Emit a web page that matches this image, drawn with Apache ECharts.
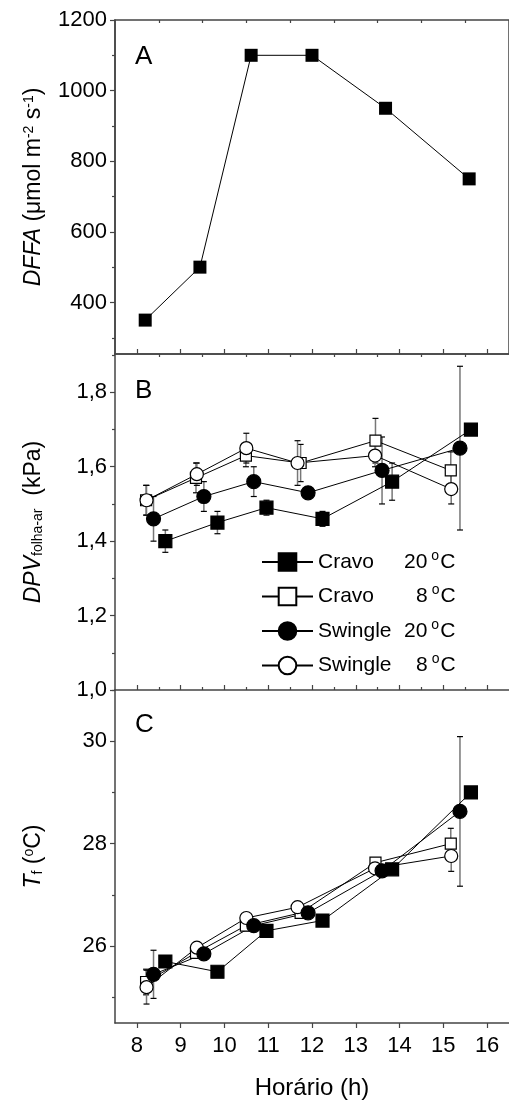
<!DOCTYPE html>
<html>
<head>
<meta charset="utf-8">
<script src="https://cdn.jsdelivr.net/npm/echarts@6/dist/echarts.min.js"></script>
<style>
html,body{margin:0;padding:0;background:#fff;}
#chart{width:509px;height:1101px;}
</style>
</head>
<body>
<div id="chart"></div>
<script>
// painel A - DFFA
var horaA = [8.19, 9.44, 10.61, 12.0, 13.68, 15.59];
var dffa = [350, 500, 1100, 1100, 950, 750];

// horario de cada tratamento (paineis B e C)
var horaCravo20 = [8.65, 9.84, 10.96, 12.24, 13.83, 15.63];
var horaCravo8 = [8.21, 9.35, 10.49, 11.74, 13.45, 15.17];
var horaSwingle20 = [8.38, 9.53, 10.67, 11.91, 13.60, 15.38];
var horaSwingle8 = [8.22, 9.37, 10.50, 11.67, 13.44, 15.18];

// painel B - DPV folha-ar
var dpvCravo20 = [1.40, 1.45, 1.49, 1.46, 1.56, 1.70];
var dpvCravo20Err = [0.03, 0.03, 0.02, 0.02, 0.05, 0];
var dpvCravo8 = [1.51, 1.57, 1.63, 1.61, 1.67, 1.59];
var dpvCravo8Err = [0.04, 0.04, 0.03, 0.05, 0.06, 0.05];
var dpvSwingle20 = [1.46, 1.52, 1.56, 1.53, 1.59, 1.65];
var dpvSwingle20Err = [0.06, 0.04, 0.04, 0.01, 0.09, 0.22];
var dpvSwingle8 = [1.51, 1.58, 1.65, 1.61, 1.63, 1.54];
var dpvSwingle8Err = [0.04, 0.03, 0.04, 0.06, 0.03, 0.04];

// painel C - Tf
var tfCravo20 = [25.7, 25.5, 26.3, 26.5, 27.5, 29.0];
var tfCravo20Err = [0, 0, 0, 0, 0, 0];
var tfCravo8 = [25.3, 25.87, 26.40, 26.65, 27.63, 28.0];
var tfCravo8Err = [0.25, 0.1, 0.1, 0.05, 0.07, 0.3];
var tfSwingle20 = [25.45, 25.85, 26.40, 26.65, 27.47, 28.63];
var tfSwingle20Err = [0.47, 0.1, 0.1, 0.05, 0.05, 1.46];
var tfSwingle8 = [25.2, 25.97, 26.55, 26.76, 27.52, 27.76];
var tfSwingle8Err = [0.33, 0.08, 0.1, 0.1, 0.1, 0.3];

// ticks
var xMajor = [8, 9, 10, 11, 12, 13, 14, 15, 16];
var xMinor = [8.5, 9.5, 10.5, 11.5, 12.5, 13.5, 14.5, 15.5];
var yMajorA = [400, 600, 800, 1000, 1200];
var yMinorA = [300, 500, 700, 900, 1100];
var yMajorB = [1.0, 1.2, 1.4, 1.6, 1.8];
var yMinorB = [1.1, 1.3, 1.5, 1.7, 1.9];
var yMajorC = [26, 28, 30];
var yMinorC = [25, 27, 29, 31];

var FONT = 'Liberation Sans, Arial, sans-serif';
var AXC = '#444';

function zip(xs, ys, es) {
	var out = [];
	for (var i = 0; i < xs.length; i++) {
		out.push(es ? [xs[i], ys[i], es[i]] : [xs[i], ys[i]]);
	}
	return out;
}

function errRender(params, api) {
	var x = api.value(0), y = api.value(1), e = api.value(2);
	if (!e) return;
	var top = api.coord([x, y + e]);
	var bot = api.coord([x, y - e]);
	var c = 3;
	return {
		type: 'group',
		children: [
			{type: 'line', shape: {x1: top[0], y1: top[1], x2: bot[0], y2: bot[1]}, style: {stroke: '#777', lineWidth: 1.5}},
			{type: 'line', shape: {x1: top[0] - c, y1: top[1], x2: top[0] + c, y2: top[1]}, style: {stroke: '#000', lineWidth: 1.2}},
			{type: 'line', shape: {x1: bot[0] - c, y1: bot[1], x2: bot[0] + c, y2: bot[1]}, style: {stroke: '#000', lineWidth: 1.2}}
		]
	};
}

var grids = [
	{left: 115, top: 20, width: 401, height: 334, show: true, borderColor: AXC, borderWidth: 1.5},
	{left: 115, top: 354, width: 401, height: 336},
	{left: 115, top: 690, width: 401, height: 335}
];

var xAxes = [], yAxes = [];
for (var g = 0; g < 3; g++) {
	var last = g == 2;
	xAxes.push({
		type: 'value', gridIndex: g, min: 7.5, max: 16.5,
		axisLine: {show: true, lineStyle: {color: AXC, width: 1.5}},
		axisTick: {show: true, inside: !last, length: 5, customValues: xMajor, lineStyle: {color: AXC, width: 1.2}},
		axisLabel: {show: last, customValues: xMajor, margin: 12, color: '#000', fontSize: 22, fontFamily: FONT},
		splitLine: {show: false},
		name: last ? 'Horário (h)' : '',
		nameLocation: 'middle', nameGap: 53,
		nameTextStyle: {color: '#000', fontSize: 24, fontFamily: FONT}
	});
	xAxes.push({
		type: 'value', gridIndex: g, min: 7.5, max: 16.5,
		axisLine: {show: false},
		axisTick: {show: true, inside: !last, length: 3, customValues: xMinor, lineStyle: {color: AXC, width: 1.2}},
		axisLabel: {show: false},
		splitLine: {show: false}
	});
}

var yRanges = [[254, 1200], [1.0, 1.903], [24.5, 31.0]];
var yMaj = [yMajorA, yMajorB, yMajorC];
var yMin = [yMinorA, yMinorB, yMinorC];
var yNames = [
	'{i|DFFA}{r| (μmol m}{s|-2}{r| s}{s|-1}{r|)}',
	'{i|DPV}{sub|folha-ar}{r|  (kPa)}',
	'{i|T}{sub|f}{r| (}{s|o}{r|C)}'
];
var nameRich = {
	i: {fontSize: 23, fontStyle: 'italic', fontFamily: FONT, color: '#000'},
	r: {fontSize: 23, fontFamily: FONT, color: '#000'},
	s: {fontSize: 14, fontFamily: FONT, color: '#000', verticalAlign: 'top', lineHeight: 12},
	sub: {fontSize: 14, fontFamily: FONT, color: '#000', verticalAlign: 'bottom'}
};
var yFormat = [
	function (v) { return String(v); },
	function (v) { return v.toFixed(1).replace('.', ','); },
	function (v) { return String(v); }
];
for (var g = 0; g < 3; g++) {
	yAxes.push({
		type: 'value', gridIndex: g, min: yRanges[g][0], max: yRanges[g][1],
		axisLine: {show: true, lineStyle: {color: AXC, width: 1.5}},
		axisTick: {show: true, length: 5, customValues: yMaj[g], lineStyle: {color: AXC, width: 1.2}},
		axisLabel: {
			customValues: yMaj[g], margin: 8, color: '#000', fontSize: 22, fontFamily: FONT,
			formatter: yFormat[g]
		},
		splitLine: {show: false},
		name: yNames[g], nameLocation: 'middle', nameGap: 70,
		nameTextStyle: {rich: nameRich}
	});
	yAxes.push({
		type: 'value', gridIndex: g, min: yRanges[g][0], max: yRanges[g][1], position: 'left',
		axisLine: {show: false},
		axisTick: {show: true, length: 3, customValues: yMin[g], lineStyle: {color: AXC, width: 1.2}},
		axisLabel: {show: false},
		splitLine: {show: false}
	});
}

var styles = {
	'Cravo 20': {symbol: 'rect', size: 13, fill: '#000'},
	'Cravo 8': {symbol: 'rect', size: 11, fill: '#fff'},
	'Swingle 20': {symbol: 'circle', size: 14, fill: '#000'},
	'Swingle 8': {symbol: 'circle', size: 13, fill: '#fff'}
};

function lineSeries(name, g, data) {
	var st = styles[name];
	return {
		name: name, type: 'line', xAxisIndex: 2 * g, yAxisIndex: 2 * g,
		data: data, symbol: st.symbol, symbolSize: st.size, showAllSymbol: true,
		lineStyle: {color: '#000', width: 1},
		itemStyle: {color: st.fill, borderColor: '#000', borderWidth: 1.2, opacity: 1},
		emphasis: {disabled: true}, animation: false, z: 3
	};
}
function errSeries(g, data) {
	return {
		type: 'custom', xAxisIndex: 2 * g, yAxisIndex: 2 * g,
		data: data, renderItem: errRender, encode: {x: 0, y: 1},
		silent: true, animation: false, z: 3
	};
}

var series = [
	{
		name: 'DFFA', type: 'line', xAxisIndex: 0, yAxisIndex: 0,
		data: zip(horaA, dffa), symbol: 'rect', symbolSize: 13,
		lineStyle: {color: '#000', width: 1}, itemStyle: {color: '#000'},
		animation: false
	},
	// painel B
	lineSeries('Cravo 8', 1, zip(horaCravo8, dpvCravo8)),
	lineSeries('Swingle 8', 1, zip(horaSwingle8, dpvSwingle8)),
	errSeries(1, zip(horaCravo8, dpvCravo8, dpvCravo8Err)),
	errSeries(1, zip(horaSwingle8, dpvSwingle8, dpvSwingle8Err)),
	errSeries(1, zip(horaSwingle20, dpvSwingle20, dpvSwingle20Err)),
	errSeries(1, zip(horaCravo20, dpvCravo20, dpvCravo20Err)),
	lineSeries('Swingle 20', 1, zip(horaSwingle20, dpvSwingle20)),
	lineSeries('Cravo 20', 1, zip(horaCravo20, dpvCravo20)),
	// painel C
	lineSeries('Cravo 8', 2, zip(horaCravo8, tfCravo8)),
	lineSeries('Swingle 8', 2, zip(horaSwingle8, tfSwingle8)),
	errSeries(2, zip(horaCravo8, tfCravo8, tfCravo8Err)),
	errSeries(2, zip(horaSwingle8, tfSwingle8, tfSwingle8Err)),
	errSeries(2, zip(horaSwingle20, tfSwingle20, tfSwingle20Err)),
	errSeries(2, zip(horaCravo20, tfCravo20, tfCravo20Err)),
	lineSeries('Swingle 20', 2, zip(horaSwingle20, tfSwingle20)),
	lineSeries('Cravo 20', 2, zip(horaCravo20, tfCravo20))
];

var legendText = {
	'Cravo 20': '{n|Cravo}{t|20}{o|o}{c|C}',
	'Cravo 8': '{n|Cravo}{t8|8}{o|o}{c|C}',
	'Swingle 20': '{n|Swingle}{t|20}{o|o}{c|C}',
	'Swingle 8': '{n|Swingle}{t8|8}{o|o}{c|C}'
};

var option = {
	backgroundColor: '#fff',
	animation: false,
	grid: grids,
	xAxis: xAxes,
	yAxis: yAxes,
	title: [
		{text: 'A', left: 130, top: 39, textStyle: {fontSize: 26, fontWeight: 'normal', color: '#000', fontFamily: FONT}},
		{text: 'B', left: 130, top: 373, textStyle: {fontSize: 26, fontWeight: 'normal', color: '#000', fontFamily: FONT}},
		{text: 'C', left: 130, top: 707, textStyle: {fontSize: 26, fontWeight: 'normal', color: '#000', fontFamily: FONT}}
	],
	legend: {
		data: ['Cravo 20', 'Cravo 8', 'Swingle 20', 'Swingle 8'],
		orient: 'vertical', left: 256, top: 544,
		itemWidth: 51, itemHeight: 22, itemGap: 8.5,
		selectedMode: false,
		formatter: function (name) { return legendText[name]; },
		textStyle: {
			color: '#000', fontFamily: FONT, fontSize: 21,
			rich: {
				n: {width: 86, fontSize: 21, fontFamily: FONT, color: '#000'},
				t: {fontSize: 21, fontFamily: FONT, color: '#000'},
				t8: {fontSize: 21, fontFamily: FONT, color: '#000', padding: [0, 0, 0, 12]},
				o: {fontSize: 14, fontFamily: FONT, color: '#000', lineHeight: 10, padding: [0, 1, 12, 4]},
				c: {fontSize: 21, fontFamily: FONT, color: '#000'}
			}
		}
	},
	series: series
};

var myChart = echarts.init(document.getElementById('chart'));
myChart.setOption(option);
</script>
</body>
</html>
